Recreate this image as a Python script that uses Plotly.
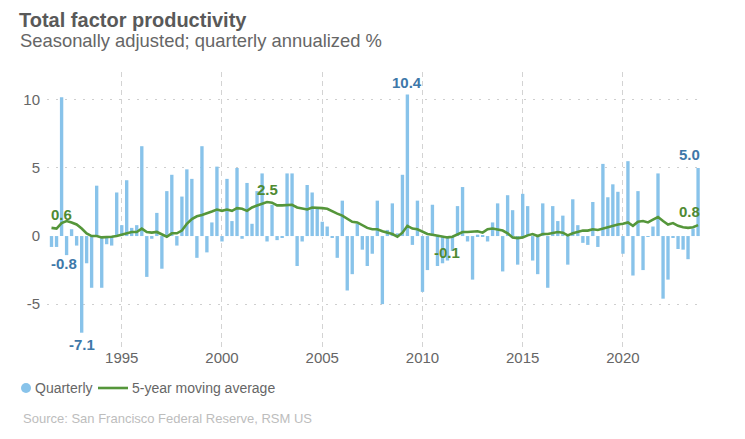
import pandas as pd
import plotly.graph_objects as go

# ---- data ----
first_quarter = "1991Q3"
last_quarter = "2023Q4"

quarterly = [
    -0.8, -0.8, 10.2, -1.4, 0.5, -0.7, -7.1, -2.0, -3.8, 3.7,
    -3.8, -0.6, -0.7, 3.2, 0.8, 4.1, 0.6, 0.8, 6.6, -3.0,
    -0.2, 1.7, -2.4, 3.3, 4.5, -0.7, 2.9, 4.9, 4.2, -1.6,
    6.6, -1.2, 1.0, 5.1, -0.4, 4.2, 1.1, 5.0, -0.2, 3.9,
    0.9, 3.3, 4.6, -0.4, 2.3, -0.3, -0.1, 4.6, 4.6, -2.2,
    -0.4, 3.75, 3.2, 2.1, 1.05, 0.7, -0.1, -1.6, 2.6, -4.0,
    -2.8, 0.9, -1.0, -2.2, -1.3, 2.6, -5.0, 0.45, 2.4, 0.2,
    4.5, 10.4, -0.65, 2.6, -4.1, -2.5, 2.3, -2.2, -2.0, -1.8,
    -1.1, 2.2, 3.6, -0.4, -3.2, 0.1, 0.05, -0.4, 1.0, 2.4,
    -2.6, 3.0, 1.9, -2.1, 3.1, 2.2, -1.8, -2.8, 2.4, -3.8,
    2.2, 1.1, 1.5, -2.1, 2.7, 0.8, -0.5, -0.65, 2.5, -0.8,
    5.3, 2.85, 3.8, 3.25, -1.3, 5.5, -2.9, 3.3, -2.5, -0.05,
    0.7, 4.6, -4.6, -3.2, -0.1, -0.95, -1.0, -1.7, 0.55, 5.0,
]

moving_avg = [
    0.6, 0.55, 0.95, 1.1, 1.0, 0.85, 0.55, 0.2, 0.0, 0.0,
    -0.1, -0.1, -0.05, 0.0, 0.1, 0.2, 0.3, 0.3, 0.55, 0.3,
    0.25, 0.3, 0.15, -0.05, 0.2, 0.2, 0.4, 0.9, 1.25, 1.45,
    1.55, 1.65, 1.8, 1.95, 1.85, 1.95, 1.85, 2.05, 2.0, 1.85,
    2.1, 2.25, 2.4, 2.5, 2.45, 2.25, 2.25, 2.3, 2.3, 2.1,
    2.05, 1.95, 2.1, 2.1, 2.05, 2.0, 1.8, 1.65, 1.5, 1.3,
    1.05, 1.0, 0.8, 0.6, 0.5, 0.5, 0.35, 0.25, 0.15, -0.05,
    0.25, 0.75, 0.55, 0.5, 0.3, 0.15, 0.1, 0.05, 0.0, -0.1,
    -0.05, 0.15, 0.3, 0.3, 0.3, 0.35, 0.25, 0.5, 0.55, 0.5,
    0.4, 0.2, -0.1, -0.15, -0.1, 0.05, 0.15, 0.0, 0.15, 0.15,
    0.25, 0.3, 0.25, 0.05, 0.2, 0.3, 0.4, 0.4, 0.5, 0.45,
    0.55, 0.7, 0.8, 0.85, 0.9, 1.0, 0.75, 1.05, 1.1, 1.0,
    1.2, 1.4, 1.1, 0.85, 0.95, 0.75, 0.65, 0.6, 0.65, 0.8,
]

y_tick_vals = [10, 5, 0, -5]
y_tick_text = ["10", "5", "0", "-5"]
x_tick_years = ["1995", "2000", "2005", "2010", "2015", "2020"]

# labelled points: (quarter index, text)
bar_labels = [(0, "-0.8"), (6, "-7.1"), (71, "10.4"), (129, "5.0")]
line_labels = [(0, "0.6"), (43, "2.5"), (79, "-0.1"), (129, "0.8")]

series_names = ["Quarterly", "5-year moving average"]
title_text = "Total factor productivity"
subtitle_text = "Seasonally adjusted; quarterly annualized %"
source_text = "Source: San Francisco Federal Reserve, RSM US"

# ---- figure ----
OFF = 8  # page body margin of the browser
W, H = 745 - OFF, 439 - OFF
ML, MR, MT, MB = 47 - OFF, 45, 72 - OFF, 92
PW, PH = W - ML - MR, H - MT - MB


def px(x):  # screen pixel x -> paper x
    return (x - OFF - ML) / PW


def py(y):  # screen pixel y -> paper y
    return (H - MB - (y - OFF)) / PH


dates = pd.period_range(first_quarter, last_quarter, freq="Q").to_timestamp()

BAR = "#88C3EA"
LINE = "#55963A"
BLUE_TXT = "#3E78A9"
GREEN_TXT = "#4F8A32"
GREY = "#666666"
FONT = "Liberation Sans, Arial, sans-serif"

fig = go.Figure()
fig.add_trace(go.Bar(x=dates, y=quarterly, marker=dict(color=BAR, line=dict(width=0)),
                     name=series_names[0], showlegend=False))
fig.add_trace(go.Scatter(x=dates, y=moving_avg, mode="lines", name=series_names[1],
                         line=dict(color=LINE, width=2.6), showlegend=False))

ann = []
for i, txt in bar_labels:
    v = quarterly[i]
    a = dict(x=dates[i], y=v, xref="x", yref="y", text=f"<b>{txt}</b>", showarrow=False,
             font=dict(family=FONT, size=15, color=BLUE_TXT))
    if i == 0:
        a.update(xanchor="left", yanchor="top", xshift=-3, yshift=-6)
    elif i == len(quarterly) - 1:
        a.update(xanchor="right", yanchor="bottom", xshift=4, yshift=3)
    elif v < 0:
        a.update(xanchor="center", yanchor="top", yshift=-1)
    else:
        a.update(xanchor="center", yanchor="bottom", yshift=1)
    ann.append(a)
for i, txt in line_labels:
    v = moving_avg[i]
    a = dict(x=dates[i], y=v, xref="x", yref="y", text=f"<b>{txt}</b>", showarrow=False,
             font=dict(family=FONT, size=15, color=GREEN_TXT))
    if i == 0:
        a.update(xanchor="left", yanchor="bottom", xshift=-3, yshift=3)
    elif i == len(moving_avg) - 1:
        a.update(xanchor="right", yanchor="bottom", xshift=4, yshift=3)
    elif v < 0:
        a.update(xanchor="center", yanchor="top", yshift=-5)
    else:
        a.update(xanchor="center", yanchor="bottom", yshift=2)
    ann.append(a)

# titles
ann.append(dict(xref="paper", yref="paper", x=px(18), y=py(20), xanchor="left", yanchor="middle",
                text=f"<b>{title_text}</b>", showarrow=False, borderpad=0,
                font=dict(family=FONT, size=20, color="#595959")))
ann.append(dict(xref="paper", yref="paper", x=px(18), y=py(40.5), xanchor="left", yanchor="middle",
                text=subtitle_text, showarrow=False,
                font=dict(family=FONT, size=18.4, color="#666666")))
# legend (drawn manually to match spacing)
ann.append(dict(xref="paper", yref="paper", x=px(33), y=py(388), xanchor="left", yanchor="middle",
                text=series_names[0], showarrow=False,
                font=dict(family=FONT, size=14, color="#666666")))
ann.append(dict(xref="paper", yref="paper", x=px(130), y=py(388), xanchor="left", yanchor="middle",
                text=series_names[1], showarrow=False,
                font=dict(family=FONT, size=14, color="#666666")))
# source
ann.append(dict(xref="paper", yref="paper", x=px(21), y=py(418), xanchor="left", yanchor="middle",
                text=source_text, showarrow=False,
                font=dict(family=FONT, size=13, color="#BDBDBD")))

shapes = [
    dict(type="circle", xref="paper", yref="paper", x0=px(21), x1=px(31), y0=py(393), y1=py(383),
         fillcolor=BAR, line=dict(width=0)),
    dict(type="line", xref="paper", yref="paper", x0=px(98), x1=px(128), y0=py(388), y1=py(388),
         line=dict(color=LINE, width=2.6)),
]

fig.update_layout(
    width=W, height=H,
    margin=dict(l=ML, r=MR, t=MT, b=MB, autoexpand=False),
    paper_bgcolor="white", plot_bgcolor="white",
    font=dict(family=FONT, color=GREY, size=15),
    bargap=0.32,
    showlegend=False,
    annotations=ann,
    shapes=shapes,
)
fig.update_xaxes(
    type="date", range=["1991-04-10", "2023-11-05"], automargin=False,
    tickvals=[pd.Timestamp(f"{y}-01-01") for y in x_tick_years], ticktext=x_tick_years,
    showgrid=True, gridcolor="#D3D3D3", griddash="5px,4px", gridwidth=1,
    showline=False, zeroline=False, ticks="", tickfont=dict(size=15, color=GREY),
)
fig.update_yaxes(
    range=[-8.15, 12.05], tickvals=y_tick_vals, ticktext=y_tick_text, automargin=False,
    showgrid=True, gridcolor="#CFCFCF", griddash="2px,7px", gridwidth=1,
    zeroline=True, zerolinecolor="white", zerolinewidth=1,
    showline=False, ticks="", ticklabelstandoff=6, tickfont=dict(size=15, color=GREY),
)

fig.write_html("out.html")
